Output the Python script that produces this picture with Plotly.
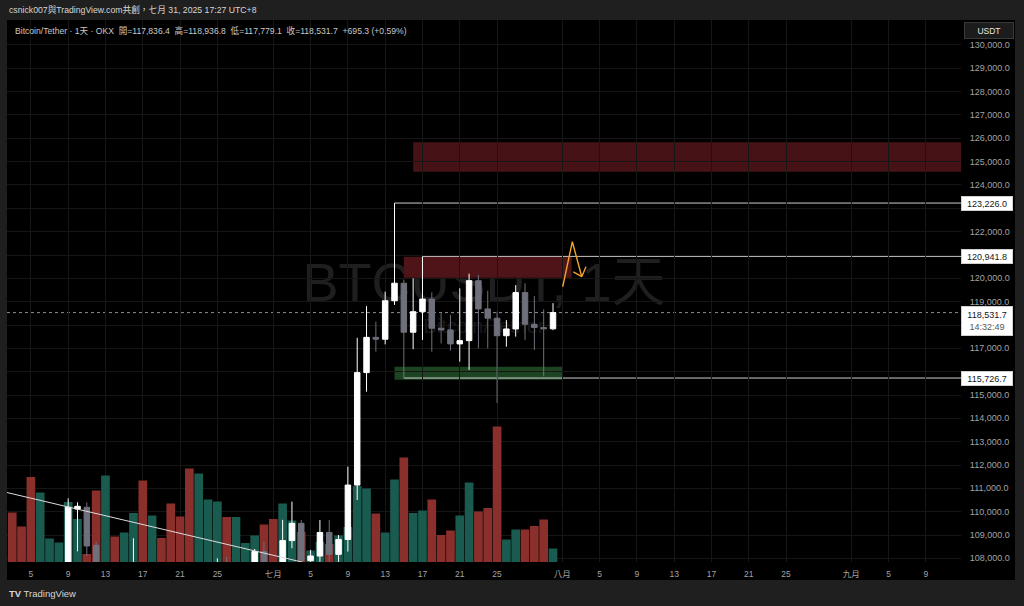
import pandas as pd
import plotly.graph_objects as go

# ---------------- data ----------------
dates = pd.date_range("2025-06-03", "2025-07-31", freq="D")

opens = [105800, 105400, 104700, 101500, 104300, 105600, 105700, 110110, 110190, 108560,
         105650, 106000, 105400, 105600, 106800, 104500, 104800, 104600, 103300, 102100,
         100900, 105300, 106000, 107300, 106900, 107100, 107300, 108290, 107100, 105700,
         108760, 109500, 107900, 108100, 109110, 108170, 108810, 111140, 115960, 117470,
         117390, 119040, 119790, 117690, 118570, 119110, 117860, 117790, 117190, 117330,
         119900, 118690, 118290, 117540, 117830, 119390, 118030, 117890, 117836.4]
highs = [106800, 105900, 105900, 105000, 105900, 106400, 110570, 110400, 110400, 108710,
         106200, 106200, 106100, 108860, 107700, 105600, 105200, 106500, 104000, 103000,
         106000, 106300, 108000, 108070, 107700, 107600, 108400, 108710, 107500, 109650,
         110430, 109640, 108360, 109640, 109640, 109000, 111930, 117450, 118810, 118140,
         119430, 123226.0, 119950, 120000, 120941.8, 119400, 118500, 118430, 119570, 120200,
         120150, 119470, 118570, 118210, 119710, 119790, 119240, 118670, 118936.8]
lows = [105100, 104200, 100400, 101100, 103900, 105000, 105300, 108300, 108100, 105400,
        102700, 104300, 104500, 104900, 103400, 103600, 103900, 102400, 101900, 98200,
        99600, 104600, 105900, 106600, 106100, 106900, 107200, 106700, 105200, 105100,
        108430, 107300, 107700, 107850, 107500, 107600, 108290, 110500, 115140, 116860,
        117170, 118860, 115726.7, 116960, 117360, 116860, 117210, 116900, 116430, 116070,
        117000, 117000, 114660, 117070, 117500, 117360, 116930, 115800, 117779.1]
closes = [105400, 104700, 101500, 104300, 105600, 105700, 110190, 110230, 108530, 105650,
          106000, 105400, 105600, 106800, 104500, 104800, 104600, 103300, 102100, 100900,
          105300, 106000, 107300, 106900, 107100, 107300, 108290, 107100, 105700, 108760,
          109500, 107900, 108100, 109110, 108170, 108810, 111140, 115960, 117470, 117390,
          119040, 119790, 117690, 118570, 119110, 117860, 117790, 117190, 117330, 119900,
          118690, 118290, 117540, 117830, 119390, 118030, 117890, 117836.4, 118531.7]
volume_k = [9.9, 7.1, 17.0, 13.9, 4.7, 3.9, 12.0, 8.6, 1.6, 14.3,
            17.3, 5.1, 5.9, 9.8, 16.3, 9.3, 4.8, 11.7, 9.1, 18.7,
            17.7, 12.5, 12.1, 9.0, 9.0, 3.8, 5.3, 7.5, 8.6, 11.7,
            8.3, 6.0, 2.3, 4.0, 3.6, 5.3, 7.0, 15.2, 14.7, 9.7,
            5.9, 16.5, 20.9, 9.8, 10.3, 12.5, 5.4, 6.3, 9.3, 15.9,
            10.1, 10.8, 27.1, 4.5, 6.5, 6.5, 7.2, 8.5, 2.7]

# axis ticks
tick_dates = ["2025-06-05", "2025-06-09", "2025-06-13", "2025-06-17", "2025-06-21", "2025-06-25",
              "2025-07-01", "2025-07-05", "2025-07-09", "2025-07-13", "2025-07-17", "2025-07-21",
              "2025-07-25", "2025-08-01", "2025-08-05", "2025-08-09", "2025-08-13", "2025-08-17",
              "2025-08-21", "2025-08-25", "2025-09-01", "2025-09-05", "2025-09-09"]
tick_text = ["5", "9", "13", "17", "21", "25", "七月", "5", "9", "13", "17", "21", "25",
             "八月", "5", "9", "13", "17", "21", "25", "九月", "5", "9"]
price_ticks = list(range(108000, 131000, 1000))
hidden_price_ticks = [116000, 118000, 121000, 123000]   # covered by price tags in the reference

# drawings
trend_dates = ["2025-06-01", "2025-07-06"]
trend_prices = [110956, 107660]
arrow_dates = ["2025-08-01 01:00", "2025-08-02 01:45", "2025-08-03 02:00", "2025-08-03 13:00",
               None, "2025-08-02 04:20", "2025-08-03 02:00"]
arrow_prices = [119640, 121570, 120070, 120500, None, 120280, 120070]
level_high = 123226.0
level_mid = 120941.8
level_low = 115726.7
last_price = 118531.7
zone_top = ("2025-07-16", 124570, 125830)
zone_mid = ("2025-07-15", "2025-08-02", 120030, 120930)
zone_green = ("2025-07-14", "2025-08-01", 115650, 116210)

x_range = ["2025-06-02 10:30", "2025-09-12 18:15"]
y_range = [107843, 131071]

# ---------------- styling ----------------
FONT = "Liberation Sans, Arial, Noto Sans CJK TC, sans-serif"
GRID = "#161616"
AXIS_TXT = "#a3a3a3"
UP_CANDLE, DN_CANDLE = "#ffffff", "#6e707b"
UP_VOL, DN_VOL = "#1a5b50", "#8a2f2b"
vol_colors = [UP_VOL if c >= o else DN_VOL for o, c in zip(opens, closes)]

fig = go.Figure()
fig.add_trace(go.Bar(x=dates, y=volume_k, yaxis="y", marker=dict(color=vol_colors, line_width=0),
                     hoverinfo="skip"))
fig.add_trace(go.Candlestick(
    x=dates, open=opens, high=highs, low=lows, close=closes, yaxis="y2",
    increasing=dict(line=dict(color=UP_CANDLE, width=1), fillcolor=UP_CANDLE),
    decreasing=dict(line=dict(color=DN_CANDLE, width=1), fillcolor=DN_CANDLE),
    whiskerwidth=0, hoverinfo="skip"))
fig.add_trace(go.Scatter(x=trend_dates, y=trend_prices, yaxis="y2", mode="lines",
                         line=dict(color="#dcdcdc", width=1), hoverinfo="skip"))
fig.add_trace(go.Scatter(x=arrow_dates, y=arrow_prices, yaxis="y2", mode="lines",
                         line=dict(color="#f2a227", width=1.4), hoverinfo="skip",
                         connectgaps=False))

shapes = [
    # black chart panel (plot + axes)
    dict(type="rect", xref="paper", yref="paper", x0=0, x1=1.0566, y0=-0.0332, y1=1,
         fillcolor="#000000", line_width=0, layer="below"),
    # zones
    dict(type="rect", xref="x", yref="y2", x0=zone_top[0], x1=x_range[1], y0=zone_top[1],
         y1=zone_top[2], fillcolor="#461216", line_width=0, layer="below"),
    dict(type="rect", xref="x", yref="y2", x0=zone_mid[0], x1=zone_mid[1], y0=zone_mid[2],
         y1=zone_mid[3], fillcolor="#4e1418", line_width=0, layer="below"),
    dict(type="rect", xref="x", yref="y2", x0=zone_green[0], x1=zone_green[1], y0=zone_green[2],
         y1=zone_green[3], fillcolor="#1d4420", line_width=0, layer="below"),
    # watermark
    dict(type="rect", xref="paper", yref="paper", x0=0.2, x1=0.8, y0=0.47, y1=0.58,
         fillcolor="rgba(0,0,0,0)", line_width=0, layer="below",
         label=dict(text="BTCUSDT, 1天", textposition="middle center",
                    font=dict(family=FONT, size=54, color="rgba(255,255,255,0.12)"))),
    dict(type="rect", xref="paper", yref="paper", x0=0.3, x1=0.7, y0=0.42, y1=0.46,
         fillcolor="rgba(0,0,0,0)", line_width=0, layer="below",
         label=dict(text="Bitcoin/Tether", textposition="middle center",
                    font=dict(family=FONT, size=20, color="rgba(255,255,255,0.11)"))),
    # levels
    dict(type="line", xref="x", yref="y2", x0="2025-07-14", x1=x_range[1], y0=level_high,
         y1=level_high, line=dict(color="#cfcfcf", width=1), layer="below"),
    dict(type="line", xref="x", yref="y2", x0="2025-07-17", x1=x_range[1], y0=level_mid,
         y1=level_mid, line=dict(color="#cfcfcf", width=1), layer="below"),
    dict(type="line", xref="x", yref="y2", x0="2025-07-15", x1=x_range[1], y0=level_low,
         y1=level_low, line=dict(color="#cfcfcf", width=1), layer="below"),
    dict(type="line", xref="x", yref="y2", x0=x_range[0], x1=x_range[1], y0=last_price,
         y1=last_price, line=dict(color="#8c8c8c", width=1, dash="dot"), layer="below"),
]

annotations = [
    dict(text="csnick007與TradingView.com共創，七月 31, 2025 17:27 UTC+8", xref="paper", yref="paper",
         x=0, y=1.0185, xanchor="left", yanchor="middle", showarrow=False,
         font=dict(family=FONT, size=8.7, color="#d6d6d6")),
    dict(text="Bitcoin/Tether · 1天 · OKX  開=117,836.4  高=118,936.8  低=117,779.1  收=118,531.7  +695.3 (+0.59%)",
         xref="paper", yref="paper", x=0.0063, y=0.9815, xanchor="left", yanchor="middle",
         showarrow=False, font=dict(family=FONT, size=8.6, color="#c8c8c8")),
    dict(text="<b>TV</b> TradingView", xref="paper", yref="paper", x=0, y=-0.059,
         xanchor="left", yanchor="middle", showarrow=False,
         font=dict(family=FONT, size=9.5, color="#d6d6d6")),
    dict(text="USDT", xref="paper", yref="paper", x=1.0294, y=0.9806, xanchor="center",
         yanchor="middle", showarrow=False, width=46, height=13, bgcolor="#1c1c1c",
         bordercolor="#3a3a3a", borderwidth=1, borderpad=1,
         font=dict(family=FONT, size=8.5, color="#e6e6e6")),
]
for lv in (level_high, level_mid, level_low):
    annotations.append(dict(text=f"{lv:,.1f}", xref="paper", yref="y2", x=1.0, y=lv,
                            xanchor="left", yanchor="middle", showarrow=False, width=48, height=11,
                            bgcolor="#ffffff", bordercolor="#d0d0d0", borderwidth=1, borderpad=1,
                            font=dict(family=FONT, size=9, color="#131722")))
annotations.append(dict(text=f"{last_price:,.1f}<br><span style='color:#555555'>14:32:49</span>",
                        xref="paper", yref="y2", x=1.0, y=last_price, xanchor="left", yanchor="top",
                        yshift=7, showarrow=False, width=48, height=26, bgcolor="#ffffff",
                        bordercolor="#d0d0d0", borderwidth=1, borderpad=1,
                        font=dict(family=FONT, size=9, color="#131722")))

fig.update_layout(
    width=1024, height=606,
    margin=dict(l=7, r=63, t=20, b=44),
    paper_bgcolor="#1f1f1f", plot_bgcolor="#000000",
    showlegend=False, bargap=0.07, boxgap=0.16,
    hovermode=False,
    xaxis=dict(type="date", range=x_range, tickvals=tick_dates, ticktext=tick_text,
               showgrid=True, gridcolor=GRID, gridwidth=1, zeroline=False, showline=False,
               ticks="outside", ticklen=4, tickcolor="rgba(0,0,0,0)",
               tickfont=dict(family=FONT, size=8.5, color=AXIS_TXT),
               rangeslider=dict(visible=False), fixedrange=True),
    yaxis=dict(range=[0, 108.4], visible=False, showgrid=False, zeroline=False, fixedrange=True),
    yaxis2=dict(overlaying="y", side="right", range=y_range, tickvals=price_ticks,
                ticktext=["" if v in hidden_price_ticks else f"{v:,.1f}" for v in price_ticks],
                showgrid=True, gridcolor=GRID,
                gridwidth=1, zeroline=False, showline=False, ticks="outside", ticklen=6,
                tickcolor="rgba(0,0,0,0)", tickfont=dict(family=FONT, size=9, color=AXIS_TXT),
                fixedrange=True),
    shapes=shapes,
    annotations=annotations,
)

fig.write_html("out.html", config={"displayModeBar": False},
               post_script="document.body.style.margin='0';document.body.style.background='#1f1f1f';")
